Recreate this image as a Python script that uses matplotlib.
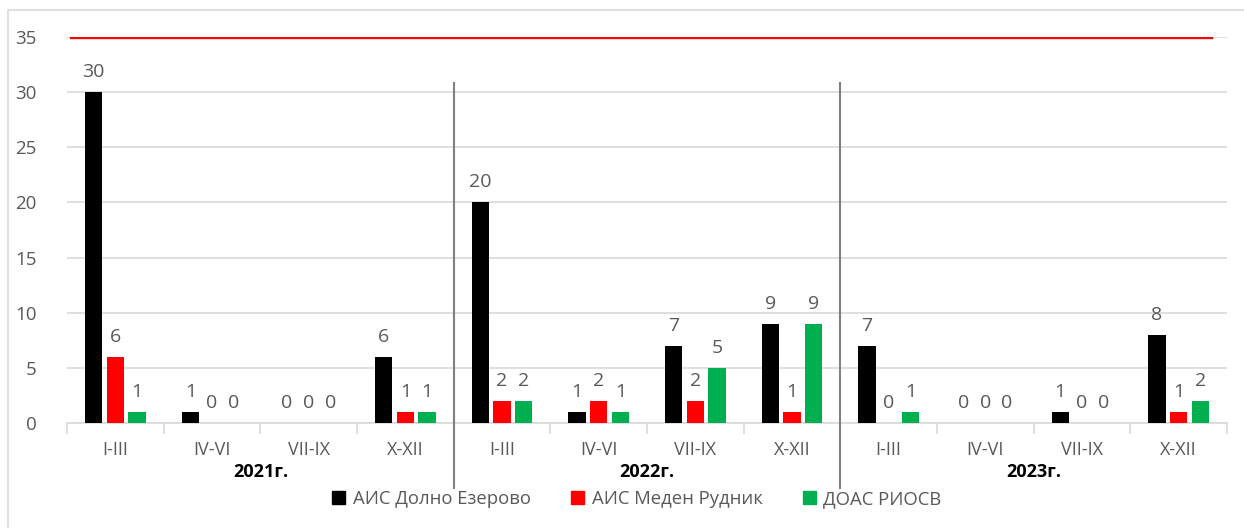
import numpy as np
import matplotlib.pyplot as plt
from matplotlib.lines import Line2D
from matplotlib.patches import Patch

plt.rcParams['font.family'] = ['Open Sans', 'DejaVu Sans']

quarters = ['I-III', 'IV-VI', 'VII-IX', 'X-XII'] * 3
years = ['2021г.', '2022г.', '2023г.']
dolno = [30, 1, 0, 6, 20, 1, 7, 9, 7, 0, 1, 8]
meden = [6, 0, 0, 1, 2, 2, 2, 1, 0, 0, 0, 1]
doas = [1, 0, 0, 1, 2, 1, 5, 9, 1, 0, 0, 2]
series = ['АИС Долно Езерово', 'АИС Меден Рудник', 'ДОАС РИОСВ']
colors = ['#000000', '#FF0000', '#00B050']
limit = 35

gray = '#595959'
fig = plt.figure(figsize=(12.44, 5.28), dpi=100)
ax = fig.add_axes([0.0539, 0.1989, 0.9324, 0.731])

x = np.arange(len(quarters))
w = 0.18
off = 0.225
for i, (vals, c) in enumerate(zip([dolno, meden, doas], colors)):
    bars = ax.bar(x + (i - 1) * off, vals, w, color=c, label=series[i], zorder=3)
    ax.bar_label(bars, padding=8, color=gray, fontsize=14)

ax.axhline(limit, xmin=0.003, xmax=0.986, color='#FF0000', lw=2.4, zorder=4)

ax.set_xlim(-0.5, 11.5)
ax.set_ylim(0, 35)
ax.set_yticks(range(0, 36, 5))
ax.yaxis.grid(True, color='#D9D9D9', lw=1.2, zorder=0)
ax.set_axisbelow(True)
for s in ['top', 'right', 'left']:
    ax.spines[s].set_visible(False)
ax.spines['bottom'].set_color('#D9D9D9')
ax.spines['bottom'].set_linewidth(1.2)
ax.tick_params(axis='y', length=0, pad=22, labelsize=13.5, labelcolor=gray)
ax.set_xticks(x)
ax.set_xticklabels(quarters)
ax.tick_params(axis='x', length=0, pad=13, labelsize=13, labelcolor=gray)
ax.set_xticks(np.arange(-0.5, 12, 1), minor=True)
ax.tick_params(axis='x', which='minor', length=8, color='#D9D9D9', width=1.2)

trans = ax.get_xaxis_transform()
for j, yr in enumerate(years):
    ax.text(4 * j + 1.5, -0.128, yr, transform=trans, ha='center', va='center',
            fontsize=13, fontweight='bold', color='black')
for xs in [3.5, 7.5]:
    ax.plot([xs, xs], [-0.168, 0.881], transform=trans, color='#808080',
            lw=1.5, clip_on=False, zorder=5)

handles = [Patch(color=c) for c in colors]
fig.legend(handles, series, loc='center', bbox_to_anchor=(0.512, 0.055), ncol=3,
           frameon=False, fontsize=13.3, labelcolor=gray, handlelength=0.7,
           handleheight=0.7, handletextpad=0.4, columnspacing=2.2)

fig.add_artist(Line2D([0.0064, 0.0064, 1.0], [0.0, 0.981, 0.981], transform=fig.transFigure,
                      color='#D9D9D9', lw=1.2))

fig.savefig('out.png', dpi=100)
